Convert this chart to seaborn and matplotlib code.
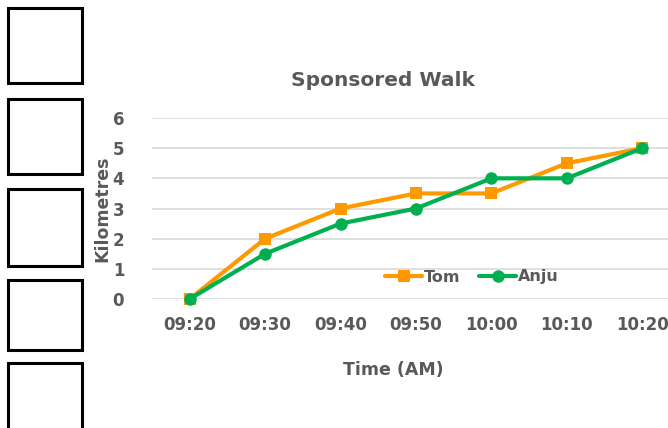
import pandas as pd
import matplotlib
matplotlib.use('Agg')
import matplotlib.pyplot as plt
import seaborn as sns
from matplotlib.patches import Rectangle

# Dati no attēla
laiki = ['09:20', '09:30', '09:40', '09:50', '10:00', '10:10', '10:20']
tom = [0, 2, 3, 3.5, 3.5, 4.5, 5]
anju = [0, 1.5, 2.5, 3, 4, 4, 5]

df = pd.DataFrame({
    'Time': laiki * 2,
    'Km': tom + anju,
    'Runner': ['Tom'] * len(laiki) + ['Anju'] * len(laiki),
})

sns.set_theme(style='white')
plt.rcParams['font.family'] = ['DejaVu Sans']
teksts = '#595959'

W, H = 668, 428
fig = plt.figure(figsize=(W / 100, H / 100), dpi=100)

# Asis pikseļos: x no 152 līdz 680, y no 118 līdz 299
ax = fig.add_axes([152 / W, (H - 299) / H, (680 - 152) / W, (299 - 118) / H])

sns.lineplot(data=df, x='Time', y='Km', hue='Runner', style='Runner',
             palette={'Tom': '#FF9900', 'Anju': '#00B050'},
             markers={'Tom': 's', 'Anju': 'o'}, dashes=False,
             linewidth=3, markersize=9, markeredgewidth=0, ax=ax,
             clip_on=False, legend=False, sort=False)

ax.set_xlim(-0.5, 6.5)
ax.set_ylim(0, 6)
ax.set_yticks(range(0, 7))
ax.grid(axis='y', color='#d9d9d9', linewidth=1.2)
ax.set_axisbelow(True)
for s in ax.spines.values():
    s.set_visible(False)
ax.tick_params(axis='both', length=0, labelsize=12, labelcolor=teksts)
ax.tick_params(axis='x', pad=12)
ax.tick_params(axis='y', pad=20)
for lab in ax.get_xticklabels() + ax.get_yticklabels():
    lab.set_fontweight('bold')
ax.set_xlabel('')
ax.set_ylabel('')

fig.text(383 / W, 1 - 80 / H, 'Sponsored Walk', ha='center', va='center',
         fontsize=14.5, fontweight='bold', color=teksts)
fig.text(393 / W, 1 - 370 / H, 'Time (AM)', ha='center', va='center',
         fontsize=12.5, fontweight='bold', color=teksts)
fig.text(102 / W, 1 - 209 / H, 'Kilometres', ha='center', va='center',
         rotation=90, fontsize=12.5, fontweight='bold', color=teksts)

# Leģenda
h_tom, = ax.plot([], [], color='#FF9900', marker='s', lw=3, ms=9, mew=0)
h_anju, = ax.plot([], [], color='#00B050', marker='o', lw=3, ms=9, mew=0)
leg = fig.legend([h_tom, h_anju], ['Tom', 'Anju'], loc='center',
                 bbox_to_anchor=(472 / W, 1 - 277 / H), ncol=2, frameon=False,
                 handlelength=2.3, columnspacing=1.2, handletextpad=0.1,
                 prop={'weight': 'bold', 'size': 11.5})
for t in leg.get_texts():
    t.set_color(teksts)

# Tukšās kastes kreisajā pusē
kastes = [(8, 83), (99, 174), (189, 266), (280, 350), (363, 440)]
for augsa, apaksa in kastes:
    fig.add_artist(Rectangle((8 / W, 1 - apaksa / H), (82 - 8) / W, (apaksa - augsa) / H,
                             transform=fig.transFigure, fill=False,
                             edgecolor='black', linewidth=2.2))

fig.savefig('out.png', dpi=100)
